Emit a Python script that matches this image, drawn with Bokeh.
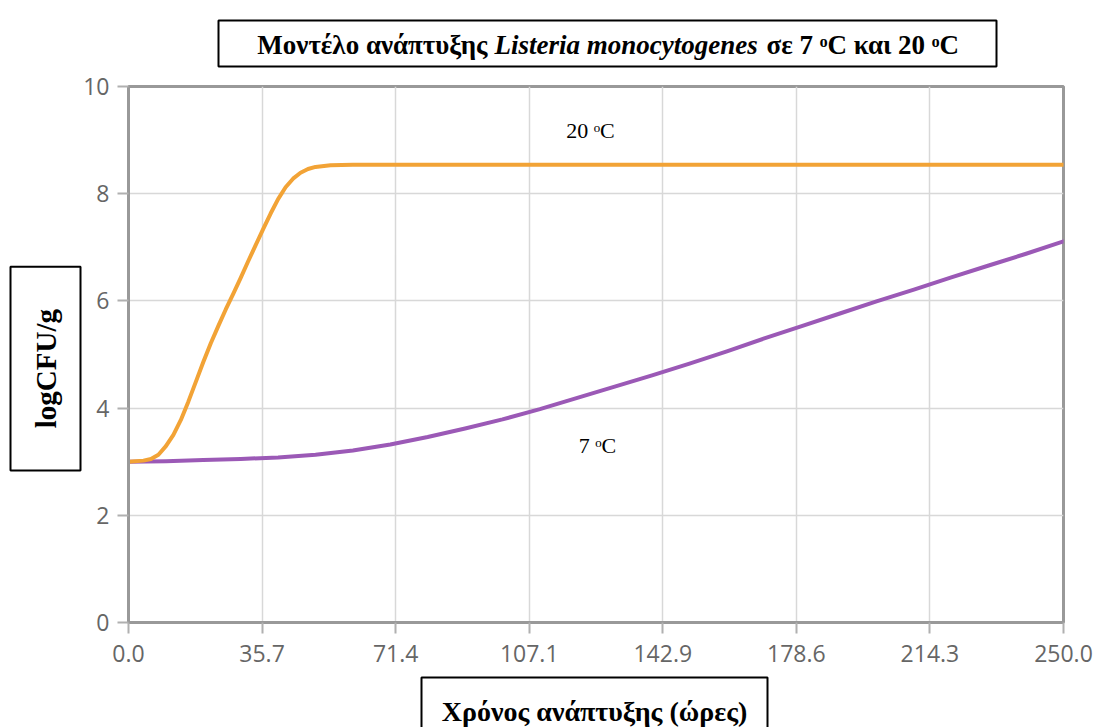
from bokeh.plotting import figure
from bokeh.layouts import column
from bokeh.models import (Range1d, FixedTicker, NumeralTickFormatter, Label,
                          BoxAnnotation, Title)
from bokeh.embed import file_html
from bokeh.resources import INLINE

# ---- data ----
t_20 = [0, 4, 6, 8, 10, 12, 14, 16, 18, 20, 22, 24, 26, 28, 30, 32, 34, 36, 38, 40,
        42, 44, 46, 48, 50, 54, 60, 250]
log_20 = [3.00, 3.02, 3.05, 3.13, 3.29, 3.50, 3.78, 4.12, 4.49, 4.86, 5.21, 5.53, 5.84,
          6.13, 6.43, 6.74, 7.04, 7.34, 7.63, 7.90, 8.12, 8.28, 8.39, 8.46, 8.50, 8.53,
          8.54, 8.54]

t_7 = [0, 10, 20, 30, 40, 50, 60, 70, 80, 90, 100, 110, 120, 130, 140, 150, 160, 170,
       180, 190, 200, 210, 220, 230, 240, 250]
log_7 = [3.00, 3.01, 3.03, 3.05, 3.08, 3.13, 3.21, 3.32, 3.46, 3.62, 3.79, 3.98, 4.19,
         4.40, 4.61, 4.83, 5.06, 5.30, 5.53, 5.76, 5.99, 6.21, 6.44, 6.66, 6.88, 7.11]

x_ticks = [0.0, 35.714, 71.429, 107.143, 142.857, 178.571, 214.286, 250.0]
y_ticks = [0, 2, 4, 6, 8, 10]

title_parts = ["Μοντέλο ανάπτυξης", "Listeria monocytogenes", "σε 7 ᵒC και 20 ᵒC"]
x_label = "Χρόνος ανάπτυξης (ώρες)"
y_label = "logCFU/g"
series_labels = ["20 ᵒC", "7 ᵒC"]

# ---- geometry (page pixels) ----
W = 1094
FL, FR, FT, FB = 128, 1063, 86, 622   # frame edges on the page
TH = 70                                # title strip height
XT = 675                               # top of x-label strip
H = XT - TH
X0, X1, Y0, Y1 = 0, 250, 0, 10
serif = "Liberation Serif"


def dx(px):
    return X0 + (px - FL) * (X1 - X0) / (FR - FL)


def dy(py):
    return Y0 + (FB - py) * (Y1 - Y0) / (FB - FT)


def strip(height, top):
    s = figure(width=W, height=height, output_backend="svg", toolbar_location=None,
               x_range=Range1d(FL, FR), y_range=Range1d(top + height, top),
               x_axis_type=None, y_axis_type=None, min_border=0)
    s.outline_line_color = None
    s.background_fill_color = "white"
    s.border_fill_color = "white"
    return s


def box(left, right, top, bottom):
    return BoxAnnotation(left=left, right=right, top=top, bottom=bottom,
                         fill_color="white", fill_alpha=1, line_color="black",
                         line_alpha=1, line_width=2)


# ---- title strip ----
pt = strip(TH, 0)
pt.add_layout(box(218, 996, 20, 66))
pt.add_layout(Label(x=487, y=44, text=title_parts[0], text_font=serif,
                    text_font_style="bold", text_font_size="27px", text_align="right",
                    text_baseline="middle", text_color="black"))
pt.add_layout(Label(x=494, y=44, text=title_parts[1], text_font=serif,
                    text_font_style="bold italic", text_font_size="27px",
                    text_align="left", text_baseline="middle", text_color="black"))
pt.add_layout(Label(x=766, y=44, text=title_parts[2], text_font=serif,
                    text_font_style="bold", text_font_size="27px", text_align="left",
                    text_baseline="middle", text_color="black"))

# ---- main chart ----
p = figure(width=W, height=H, output_backend="svg", toolbar_location=None,
           x_range=Range1d(X0, X1), y_range=Range1d(Y0, Y1),
           min_border_left=FL, min_border_right=W - FR,
           min_border_top=FT - TH, min_border_bottom=XT - FB)

p.background_fill_color = "white"
p.border_fill_color = "white"
p.outline_line_color = "#999999"
p.outline_line_width = 3

for ax in (p.xaxis, p.yaxis):
    ax.axis_line_color = "#999999"
    ax.axis_line_width = 3
    ax.major_tick_line_color = "#b0b0b0"
    ax.major_tick_line_width = 2
    ax.major_tick_in = 0
    ax.major_tick_out = 11
    ax.minor_tick_line_color = None
    ax.major_label_text_color = "#666666"
    ax.major_label_text_font = "Open Sans"
    ax.major_label_text_font_size = "23px"

p.xaxis.ticker = FixedTicker(ticks=x_ticks)
p.xaxis.formatter = NumeralTickFormatter(format="0.0")
p.xaxis.major_label_standoff = 11
p.yaxis.ticker = FixedTicker(ticks=y_ticks)
p.yaxis.major_label_standoff = 8

p.grid.grid_line_color = "#d8d8d8"
p.grid.grid_line_width = 1.5

p.line(t_7, log_7, line_color="#9b59b6", line_width=4, line_join="round", line_cap="round")
p.line(t_20, log_20, line_color="#f2a336", line_width=4, line_join="round", line_cap="round")

p.add_layout(Label(x=dx(590), y=dy(130), text=series_labels[0], text_font=serif,
                   text_font_size="22px", text_align="center", text_baseline="middle",
                   text_color="black"))
p.add_layout(Label(x=dx(597), y=dy(445), text=series_labels[1], text_font=serif,
                   text_font_size="22px", text_align="center", text_baseline="middle",
                   text_color="black"))

# y-axis title in a box
pad = "\u00a0" * 5
p.add_layout(Title(text=pad + y_label + pad, align="left", offset=FB - 470,
                   text_font=serif, text_font_style="bold", text_font_size="29px",
                   text_color="black", standoff=0,
                   background_fill_color="white", border_line_color="black",
                   border_line_width=2, padding=(6, 19)), "left")

# ---- x-label strip ----
px = strip(727 - XT, XT)
px.add_layout(box(421, 767, 677, 760))
px.add_layout(Label(x=594, y=711, text=x_label, text_font=serif, text_font_style="bold",
                    text_font_size="28px", text_align="center", text_baseline="middle",
                    text_color="black"))

layout = column(pt, p, px, spacing=0)
open("out.html", "w").write(file_html(layout, INLINE))
